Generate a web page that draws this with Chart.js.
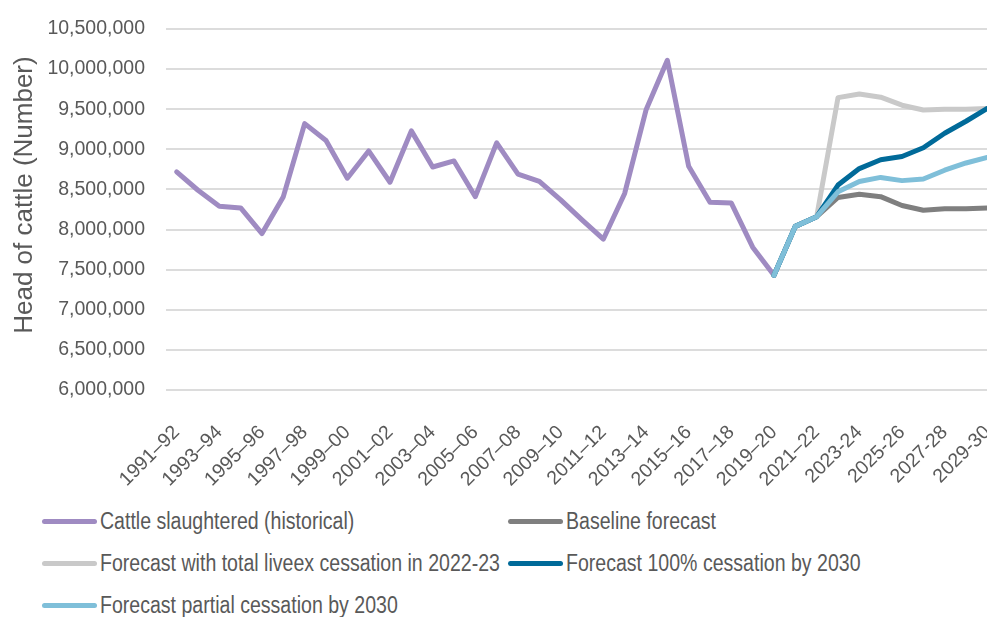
<!DOCTYPE html>
<html>
<head>
<meta charset="utf-8">
<script src="https://cdn.jsdelivr.net/npm/chart.js@4.4.1/dist/chart.umd.min.js"></script>
<style>
  body { margin: 0; background: #fff; overflow: hidden; width: 987px; height: 617px; }
  #chartBox { position: absolute; left: 0; top: 0; width: 998px; height: 490px; }
  #legend {
    position: absolute; left: 42px; top: 507px;
    display: grid; grid-template-columns: 466px auto; row-gap: 13px;
    font-family: "Liberation Sans", Arial, sans-serif;
    font-size: 23px; color: #595959;
  }
  .item { display: flex; align-items: center; height: 29px; white-space: nowrap; }
  .swatch { width: 55px; height: 5px; border-radius: 3px; margin-right: 3px; flex: none; }
  .txt { display: inline-block; transform: scaleX(0.85); transform-origin: left center; }
</style>
</head>
<body>
<div id="chartBox"><canvas id="cattleChart"></canvas></div>
<div id="legend"></div>
<script>
const years = [
  "1991–92", "1992–93", "1993–94", "1994–95", "1995–96", "1996–97", "1997–98", "1998–99",
  "1999–00", "2000–01", "2001–02", "2002–03", "2003–04", "2004–05", "2005–06", "2006–07",
  "2007–08", "2008–09", "2009–10", "2010–11", "2011–12", "2012–13", "2013–14", "2014–15",
  "2015–16", "2016–17", "2017–18", "2018–19", "2019–20", "2020–21", "2021–22", "2022–23",
  "2023-24", "2024-25", "2025-26", "2026-27", "2027-28", "2028-29", "2029-30"
];

// historical slaughter, 1991-92 to 2019-20
const historical = [
  8720000, 8490000, 8290000, 8270000, 7950000, 8410000, 9320000, 9110000,
  8640000, 8980000, 8590000, 9230000, 8780000, 8855000, 8410000, 9080000,
  8690000, 8600000, 8370000, 8120000, 7880000, 8450000, 9490000, 10110000,
  8790000, 8340000, 8330000, 7780000, 7430000
];

// forecasts start at 2019-20 (index 28)
const baseline = [7430000, 8040000, 8160000, 8400000, 8440000, 8410000, 8300000, 8240000, 8260000, 8260000, 8270000];
const totalCessation = [7430000, 8040000, 8160000, 9645000, 9690000, 9650000, 9550000, 9490000, 9500000, 9500000, 9510000];
const fullCessation = [7430000, 8040000, 8160000, 8555000, 8760000, 8870000, 8910000, 9020000, 9200000, 9350000, 9510000];
const partialCessation = [7430000, 8040000, 8160000, 8470000, 8600000, 8650000, 8610000, 8630000, 8740000, 8830000, 8900000];

const forecastStart = 28;
const fontFamily = '"Liberation Sans", Arial, sans-serif';

function padForecast(values) {
  let out = [];
  for (let i = 0; i < forecastStart; i++) out.push(null);
  return out.concat(values);
}

function lineSet(label, data, color, order) {
  return {
    label: label,
    data: data,
    borderColor: color,
    backgroundColor: color,
    borderWidth: 5,
    pointRadius: 0,
    tension: 0,
    borderJoinStyle: "round",
    borderCapStyle: "round",
    spanGaps: false,
    order: order,
  };
}

let chart_Data = {
  labels: years,
  datasets: [
    lineSet("Cattle slaughtered (historical)", historical, "#9f8bc2", 5),
    lineSet("Baseline forecast", padForecast(baseline), "#7f7f7f", 4),
    lineSet("Forecast with total liveex cessation in 2022-23", padForecast(totalCessation), "#c9c9c9", 3),
    lineSet("Forecast 100% cessation by 2030", padForecast(fullCessation), "#006a99", 2),
    lineSet("Forecast partial cessation by 2030", padForecast(partialCessation), "#7fbfd9", 1),
  ],
};

let options = {
  responsive: true,
  maintainAspectRatio: false,
  animation: false,
  layout: { padding: { top: 29, left: 0, right: 0, bottom: 0 } },
  plugins: {
    legend: { display: false },
    tooltip: { enabled: false },
  },
  scales: {
    x: {
      offset: true,
      grid: { display: false },
      border: { display: false },
      ticks: {
        autoSkip: false,
        maxRotation: 45,
        minRotation: 45,
        padding: 23,
        color: "#595959",
        font: { family: fontFamily, size: 19.5 },
        callback: function (value, index) {
          return index % 2 === 0 ? this.getLabelForValue(value) : "";
        },
      },
      afterFit: (scale) => {
        scale.height = 100;
        scale.paddingLeft = 0;
        scale.paddingRight = 0;
      },
    },
    y: {
      min: 6000000,
      max: 10500000,
      grid: { color: "#dcdcdc", lineWidth: 2, drawTicks: false },
      border: { display: false },
      ticks: {
        stepSize: 500000,
        padding: 21,
        color: "#595959",
        font: { family: fontFamily, size: 19.5 },
        callback: (v) => v.toLocaleString("en-US"),
      },
      title: {
        display: true,
        // leading spaces nudge the title up a little, as in the original
        text: "    Head of cattle (Number)",
        color: "#595959",
        font: { family: fontFamily, size: 26 },
        padding: { top: 9, bottom: 0 },
      },
      afterFit: (scale) => {
        scale.width = 166;
        scale.paddingTop = 0;
        scale.paddingBottom = 0;
      },
    },
  },
};

var ctx = document.getElementById("cattleChart").getContext("2d");
var myChart = new Chart(ctx, {
  type: "line",
  data: chart_Data,
  options: options,
});

// legend in two columns, like the original
let legendHtml = "";
myChart.data.datasets.forEach((ds) => {
  legendHtml += `<div class="item"><span class="swatch" style="background:${ds.borderColor}"></span><span class="txt">${ds.label}</span></div>`;
});
document.getElementById("legend").innerHTML = legendHtml;
</script>
</body>
</html>
